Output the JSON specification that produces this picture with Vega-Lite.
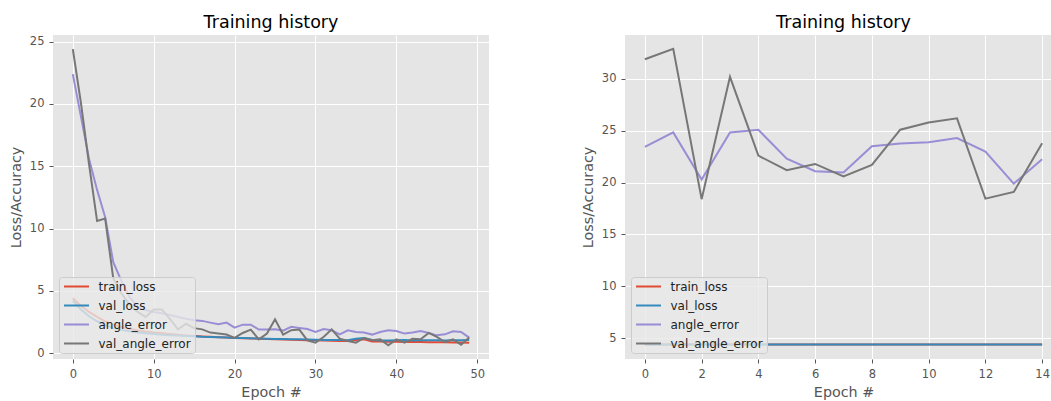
{
  "$schema": "https://vega.github.io/schema/vega-lite/v6.json",
  "usermeta": {"embedOptions": {"actions": false}},
  "autosize": {"type": "none"},
  "padding": {"left": 53, "top": 35, "right": 998, "bottom": 366},
  "background": "white",
  "datasets": {
    "left": [
      {"epoch": 0, "train_loss": 4.4, "val_loss": 4.2, "angle_error": 22.4, "val_angle_error": 24.4},
      {"epoch": 1, "train_loss": 3.8, "val_loss": 3.5, "angle_error": 19.0, "val_angle_error": 20.1},
      {"epoch": 2, "train_loss": 3.3, "val_loss": 2.95, "angle_error": 15.6, "val_angle_error": 15.2},
      {"epoch": 3, "train_loss": 2.9, "val_loss": 2.55, "angle_error": 13.1, "val_angle_error": 10.6},
      {"epoch": 4, "train_loss": 2.55, "val_loss": 2.25, "angle_error": 10.9, "val_angle_error": 10.8},
      {"epoch": 5, "train_loss": 2.3, "val_loss": 2.02, "angle_error": 7.3, "val_angle_error": 6.0},
      {"epoch": 6, "train_loss": 2.1, "val_loss": 1.86, "angle_error": 5.8, "val_angle_error": 4.8},
      {"epoch": 7, "train_loss": 1.95, "val_loss": 1.74, "angle_error": 4.5, "val_angle_error": 3.9},
      {"epoch": 8, "train_loss": 1.82, "val_loss": 1.65, "angle_error": 3.7, "val_angle_error": 3.3},
      {"epoch": 9, "train_loss": 1.72, "val_loss": 1.58, "angle_error": 3.45, "val_angle_error": 2.9},
      {"epoch": 10, "train_loss": 1.65, "val_loss": 1.52, "angle_error": 3.3, "val_angle_error": 3.5},
      {"epoch": 11, "train_loss": 1.58, "val_loss": 1.47, "angle_error": 3.2, "val_angle_error": 3.5},
      {"epoch": 12, "train_loss": 1.52, "val_loss": 1.43, "angle_error": 3.05, "val_angle_error": 2.75},
      {"epoch": 13, "train_loss": 1.46, "val_loss": 1.4, "angle_error": 2.9, "val_angle_error": 1.9},
      {"epoch": 14, "train_loss": 1.41, "val_loss": 1.37, "angle_error": 2.75, "val_angle_error": 2.35},
      {"epoch": 15, "train_loss": 1.37, "val_loss": 1.35, "angle_error": 2.63, "val_angle_error": 2.0},
      {"epoch": 16, "train_loss": 1.33, "val_loss": 1.3, "angle_error": 2.58, "val_angle_error": 1.9},
      {"epoch": 17, "train_loss": 1.3, "val_loss": 1.28, "angle_error": 2.44, "val_angle_error": 1.64},
      {"epoch": 18, "train_loss": 1.27, "val_loss": 1.26, "angle_error": 2.31, "val_angle_error": 1.56},
      {"epoch": 19, "train_loss": 1.24, "val_loss": 1.24, "angle_error": 2.44, "val_angle_error": 1.48},
      {"epoch": 20, "train_loss": 1.21, "val_loss": 1.2, "angle_error": 2.04, "val_angle_error": 1.21},
      {"epoch": 21, "train_loss": 1.19, "val_loss": 1.2, "angle_error": 2.28, "val_angle_error": 1.61},
      {"epoch": 22, "train_loss": 1.17, "val_loss": 1.18, "angle_error": 2.28, "val_angle_error": 1.88},
      {"epoch": 23, "train_loss": 1.15, "val_loss": 1.17, "angle_error": 1.88, "val_angle_error": 1.1},
      {"epoch": 24, "train_loss": 1.13, "val_loss": 1.15, "angle_error": 1.88, "val_angle_error": 1.56},
      {"epoch": 25, "train_loss": 1.11, "val_loss": 1.13, "angle_error": 1.9, "val_angle_error": 2.71},
      {"epoch": 26, "train_loss": 1.09, "val_loss": 1.12, "angle_error": 1.8, "val_angle_error": 1.48},
      {"epoch": 27, "train_loss": 1.07, "val_loss": 1.1, "angle_error": 2.1, "val_angle_error": 1.83},
      {"epoch": 28, "train_loss": 1.05, "val_loss": 1.1, "angle_error": 2.01, "val_angle_error": 1.88},
      {"epoch": 29, "train_loss": 1.03, "val_loss": 1.08, "angle_error": 1.93, "val_angle_error": 1.02},
      {"epoch": 30, "train_loss": 1.02, "val_loss": 1.06, "angle_error": 1.69, "val_angle_error": 0.83},
      {"epoch": 31, "train_loss": 1.0, "val_loss": 1.05, "angle_error": 1.93, "val_angle_error": 1.29},
      {"epoch": 32, "train_loss": 0.99, "val_loss": 1.05, "angle_error": 1.83, "val_angle_error": 1.9},
      {"epoch": 33, "train_loss": 0.97, "val_loss": 1.04, "angle_error": 1.5, "val_angle_error": 1.15},
      {"epoch": 34, "train_loss": 0.96, "val_loss": 1.02, "angle_error": 1.83, "val_angle_error": 0.96},
      {"epoch": 35, "train_loss": 1.05, "val_loss": 1.15, "angle_error": 1.69, "val_angle_error": 0.83},
      {"epoch": 36, "train_loss": 1.1, "val_loss": 1.2, "angle_error": 1.64, "val_angle_error": 1.21},
      {"epoch": 37, "train_loss": 0.93, "val_loss": 1.05, "angle_error": 1.48, "val_angle_error": 1.02},
      {"epoch": 38, "train_loss": 0.92, "val_loss": 1.0, "angle_error": 1.69, "val_angle_error": 1.1},
      {"epoch": 39, "train_loss": 0.91, "val_loss": 1.0, "angle_error": 1.83, "val_angle_error": 0.62},
      {"epoch": 40, "train_loss": 0.9, "val_loss": 1.02, "angle_error": 1.77, "val_angle_error": 1.1},
      {"epoch": 41, "train_loss": 0.89, "val_loss": 1.05, "angle_error": 1.56, "val_angle_error": 0.83},
      {"epoch": 42, "train_loss": 0.89, "val_loss": 1.0, "angle_error": 1.64, "val_angle_error": 1.15},
      {"epoch": 43, "train_loss": 0.88, "val_loss": 1.02, "angle_error": 1.77, "val_angle_error": 1.1},
      {"epoch": 44, "train_loss": 0.87, "val_loss": 1.03, "angle_error": 1.61, "val_angle_error": 1.61},
      {"epoch": 45, "train_loss": 0.86, "val_loss": 1.02, "angle_error": 1.42, "val_angle_error": 1.29},
      {"epoch": 46, "train_loss": 0.86, "val_loss": 1.01, "angle_error": 1.5, "val_angle_error": 0.88},
      {"epoch": 47, "train_loss": 0.85, "val_loss": 1.02, "angle_error": 1.74, "val_angle_error": 1.1},
      {"epoch": 48, "train_loss": 0.84, "val_loss": 1.03, "angle_error": 1.69, "val_angle_error": 0.67},
      {"epoch": 49, "train_loss": 0.83, "val_loss": 1.05, "angle_error": 1.24, "val_angle_error": 1.24}
    ],
    "right": [
      {"epoch": 0, "train_loss": 4.37, "val_loss": 4.37, "angle_error": 23.45, "val_angle_error": 31.9},
      {"epoch": 1, "train_loss": 4.37, "val_loss": 4.37, "angle_error": 24.84, "val_angle_error": 32.9},
      {"epoch": 2, "train_loss": 4.37, "val_loss": 4.37, "angle_error": 20.3, "val_angle_error": 18.4},
      {"epoch": 3, "train_loss": 4.37, "val_loss": 4.37, "angle_error": 24.84, "val_angle_error": 30.2},
      {"epoch": 4, "train_loss": 4.37, "val_loss": 4.37, "angle_error": 25.1, "val_angle_error": 22.6},
      {"epoch": 5, "train_loss": 4.37, "val_loss": 4.37, "angle_error": 22.3, "val_angle_error": 21.2},
      {"epoch": 6, "train_loss": 4.37, "val_loss": 4.37, "angle_error": 21.1, "val_angle_error": 21.8},
      {"epoch": 7, "train_loss": 4.37, "val_loss": 4.37, "angle_error": 20.97, "val_angle_error": 20.6},
      {"epoch": 8, "train_loss": 4.37, "val_loss": 4.37, "angle_error": 23.5, "val_angle_error": 21.7},
      {"epoch": 9, "train_loss": 4.37, "val_loss": 4.37, "angle_error": 23.77, "val_angle_error": 25.1},
      {"epoch": 10, "train_loss": 4.37, "val_loss": 4.37, "angle_error": 23.9, "val_angle_error": 25.8},
      {"epoch": 11, "train_loss": 4.37, "val_loss": 4.37, "angle_error": 24.3, "val_angle_error": 26.2},
      {"epoch": 12, "train_loss": 4.37, "val_loss": 4.37, "angle_error": 23.0, "val_angle_error": 18.45},
      {"epoch": 13, "train_loss": 4.37, "val_loss": 4.37, "angle_error": 19.9, "val_angle_error": 19.1},
      {"epoch": 14, "train_loss": 4.37, "val_loss": 4.37, "angle_error": 22.25, "val_angle_error": 23.8}
    ]
  },
  "spacing": 136,
  "bounds": "flush",
  "hconcat": [
    {
      "width": 436,
      "height": 324,
      "title": "Training history",
      "data": {"name": "left"},
      "transform": [{"fold": ["train_loss", "val_loss", "angle_error", "val_angle_error"], "as": ["series", "value"]}],
      "mark": {"type": "line", "strokeWidth": 2, "clip": true},
      "encoding": {
        "x": {"field": "epoch", "type": "quantitative", "scale": {"domain": [-2.45, 51.45], "nice": false, "zero": false}, "axis": {"values": [0, 10, 20, 30, 40, 50], "title": "Epoch #"}},
        "y": {"field": "value", "type": "quantitative", "scale": {"domain": [-0.48, 25.54], "nice": false, "zero": false}, "axis": {"values": [0, 5, 10, 15, 20, 25], "title": "Loss/Accuracy"}},
        "color": {"field": "series", "type": "nominal", "scale": {"domain": ["train_loss", "val_loss", "angle_error", "val_angle_error"], "range": ["#E24A33", "#348ABD", "#988ED5", "#777777"]}, "legend": {"title": null}}
      }
    },
    {
      "width": 437,
      "height": 324,
      "title": "Training history",
      "data": {"name": "right"},
      "transform": [{"fold": ["train_loss", "val_loss", "angle_error", "val_angle_error"], "as": ["series", "value"]}],
      "mark": {"type": "line", "strokeWidth": 2, "clip": true},
      "encoding": {
        "x": {"field": "epoch", "type": "quantitative", "scale": {"domain": [-0.7, 14.7], "nice": false, "zero": false}, "axis": {"values": [0, 2, 4, 6, 8, 10, 12, 14], "title": "Epoch #"}},
        "y": {"field": "value", "type": "quantitative", "scale": {"domain": [2.98, 34.24], "nice": false, "zero": false}, "axis": {"values": [5, 10, 15, 20, 25, 30], "title": "Loss/Accuracy"}},
        "color": {"field": "series", "type": "nominal", "scale": {"domain": ["train_loss", "val_loss", "angle_error", "val_angle_error"], "range": ["#E24A33", "#348ABD", "#988ED5", "#777777"]}, "legend": {"title": null}}
      }
    }
  ],
  "resolve": {"legend": {"color": "independent"}, "scale": {"color": "independent"}},
  "config": {
    "font": "DejaVu Sans",
    "view": {"fill": "#E5E5E5", "stroke": null},
    "axis": {
      "domain": false,
      "grid": true,
      "gridColor": "#FFFFFF",
      "gridWidth": 1,
      "gridOpacity": 1,
      "tickColor": "#555555",
      "tickSize": 4,
      "tickWidth": 1,
      "labelColor": "#555555",
      "labelFontSize": 11.5,
      "labelPadding": 5,
      "titleColor": "#555555",
      "titleFontSize": 14.3,
      "titleFontWeight": "normal"
    },
    "axisX": {"titlePadding": 6},
    "axisY": {"titlePadding": 6},
    "title": {"fontSize": 17.5, "fontWeight": "normal", "color": "#000000", "offset": 4, "anchor": "middle"},
    "legend": {
      "orient": "bottom-left",
      "offset": 6,
      "padding": 3.5,
      "fillColor": "rgba(232,232,232,0.8)",
      "strokeColor": "#CCCCCC",
      "cornerRadius": 3,
      "symbolType": "M-0.9,0H4.1",
      "symbolSize": 100,
      "symbolStrokeWidth": 2,
      "labelFontSize": 12,
      "labelColor": "#222222",
      "labelOffset": 24,
      "rowPadding": 7
    }
  }
}
